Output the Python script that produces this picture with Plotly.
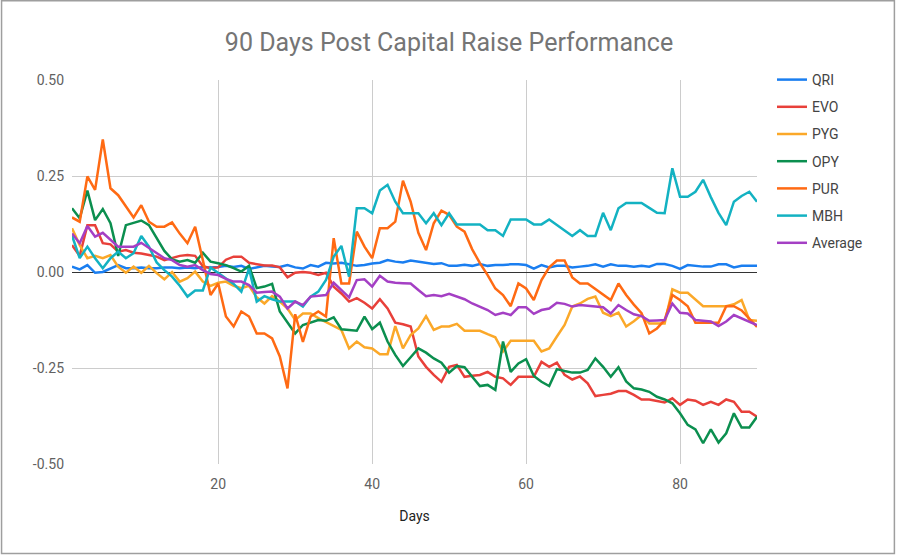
import plotly.graph_objects as go

days = list(range(1, 91))

series_names = ["QRI", "EVO", "PYG", "OPY", "PUR", "MBH", "Average"]

QRI = [0.014, 0.007, 0.018, -0.002, 0.0, 0.008, 0.018, 0.01, 0.01, 0.012,
       0.01, 0.01, 0.012, 0.012, 0.01, 0.012, 0.01, 0.013, 0.012, 0.013,
       0.016, 0.013, 0.016, 0.008, 0.012, 0.016, 0.014, 0.013, 0.018, 0.012,
       0.009, 0.018, 0.014, 0.024, 0.022, 0.024, 0.02, 0.016, 0.018, 0.022,
       0.024, 0.031, 0.027, 0.025, 0.03, 0.027, 0.023, 0.021, 0.023, 0.016,
       0.016, 0.019, 0.016, 0.021, 0.016, 0.018, 0.018, 0.02, 0.02, 0.018,
       0.009, 0.018, 0.012, 0.016, 0.016, 0.012, 0.014, 0.016, 0.02, 0.014,
       0.02, 0.016, 0.016, 0.014, 0.016, 0.014, 0.021, 0.021, 0.016, 0.008,
       0.018, 0.016, 0.014, 0.014, 0.02, 0.02, 0.012, 0.016, 0.016, 0.016]

EVO = [0.07, 0.042, 0.122, 0.122, 0.075, 0.072, 0.053, 0.057, 0.05, 0.048,
       0.044, 0.04, 0.031, 0.036, 0.042, 0.044, 0.042, 0.015, 0.01, 0.012,
       0.032, 0.04, 0.04, 0.024, 0.02, 0.017, 0.017, 0.012, -0.014, -0.002,
       0.0, -0.002, -0.008, -0.002, -0.038, -0.056, -0.077, -0.068, -0.08, -0.095,
       -0.071, -0.095, -0.132, -0.136, -0.142, -0.22, -0.247, -0.268, -0.286, -0.247,
       -0.242, -0.273, -0.27, -0.268, -0.26, -0.273, -0.277, -0.294, -0.273, -0.273,
       -0.273, -0.234, -0.247, -0.236, -0.268, -0.28, -0.272, -0.29, -0.323, -0.32,
       -0.317, -0.31, -0.31, -0.32, -0.332, -0.332, -0.337, -0.34, -0.329, -0.346,
       -0.332, -0.335, -0.346, -0.338, -0.346, -0.332, -0.338, -0.364, -0.364, -0.377]

PYG = [0.114, 0.07, 0.036, 0.042, 0.036, 0.044, 0.014, -0.002, 0.014, -0.002,
       0.016, -0.003, -0.019, 0.0, -0.025, -0.016, 0.001, -0.025, -0.036, -0.028,
       -0.025, -0.036, -0.042, -0.036, -0.066, -0.082, -0.063, -0.077, -0.095, -0.125,
       -0.108, -0.108, -0.12, -0.13, -0.14, -0.151, -0.199, -0.181, -0.196, -0.199,
       -0.214, -0.214, -0.141, -0.199, -0.164, -0.147, -0.115, -0.151, -0.142, -0.142,
       -0.135, -0.153, -0.153, -0.153, -0.162, -0.17, -0.207, -0.179, -0.179, -0.179,
       -0.179, -0.207, -0.199, -0.168, -0.138, -0.09, -0.082, -0.07, -0.064, -0.106,
       -0.115, -0.106, -0.142, -0.128, -0.112, -0.134, -0.134, -0.134, -0.045, -0.054,
       -0.054, -0.072, -0.089, -0.089, -0.089, -0.089, -0.084, -0.073, -0.125, -0.127]

OPY = [0.166, 0.14, 0.212, 0.135, 0.164, 0.127, 0.042, 0.122, 0.128, 0.134,
       0.122, 0.09, 0.055, 0.033, 0.027, 0.031, 0.024, 0.05, 0.027, 0.023,
       0.018, 0.01, 0.001, 0.016, -0.042, -0.038, -0.031, -0.103, -0.132, -0.16,
       -0.138, -0.132, -0.125, -0.127, -0.118, -0.149, -0.151, -0.153, -0.116, -0.149,
       -0.132, -0.181, -0.216, -0.245, -0.222, -0.199, -0.21, -0.225, -0.236, -0.262,
       -0.245, -0.248, -0.273, -0.297, -0.294, -0.307, -0.181, -0.26, -0.238, -0.227,
       -0.271, -0.286, -0.297, -0.253, -0.258, -0.262, -0.262, -0.255, -0.225, -0.247,
       -0.273, -0.248, -0.285, -0.303, -0.306, -0.312, -0.325, -0.332, -0.342, -0.368,
       -0.398, -0.41, -0.446, -0.41, -0.444, -0.42, -0.368, -0.405, -0.405, -0.377]

PUR = [0.142, 0.131, 0.249, 0.214, 0.345, 0.218, 0.2, 0.17, 0.142, 0.174,
       0.131, 0.118, 0.118, 0.129, 0.1, 0.075, 0.118, 0.031, -0.06, -0.03,
       -0.116, -0.142, -0.103, -0.116, -0.16, -0.16, -0.173, -0.22, -0.303, -0.11,
       -0.182, -0.116, -0.103, -0.116, 0.088, -0.03, -0.03, 0.105, 0.066, 0.036,
       0.114, 0.114, 0.131, 0.238, 0.183, 0.102, 0.057, 0.127, 0.16, 0.149,
       0.118, 0.105, 0.059, 0.023, -0.008, -0.043, -0.06, -0.089, -0.03, -0.043,
       -0.073, -0.021, 0.012, 0.03, 0.03, -0.014, -0.03, -0.03, -0.045, -0.06,
       -0.073, -0.03, -0.06, -0.085, -0.107, -0.16, -0.147, -0.125, -0.06, -0.073,
       -0.089, -0.132, -0.132, -0.132, -0.132, -0.089, -0.089, -0.1, -0.121, -0.143]

MBH = [0.095, 0.036, 0.066, 0.036, 0.01, 0.036, 0.053, 0.036, 0.049, 0.094,
       0.066, 0.025, 0.005, -0.012, -0.036, -0.064, -0.048, -0.048, 0.012, -0.003,
       -0.016, -0.031, -0.051, 0.009, -0.077, -0.063, -0.071, -0.077, -0.077, -0.077,
       -0.09, -0.064, -0.051, -0.021, 0.04, 0.068, -0.012, 0.166, 0.166, 0.153,
       0.212, 0.227, 0.183, 0.153, 0.153, 0.153, 0.127, 0.153, 0.122, 0.153,
       0.124, 0.124, 0.124, 0.124, 0.109, 0.109, 0.094, 0.137, 0.137, 0.137,
       0.124, 0.124, 0.137, 0.122, 0.108, 0.094, 0.109, 0.094, 0.094, 0.154,
       0.109, 0.166, 0.18, 0.18, 0.18, 0.167, 0.154, 0.153, 0.27, 0.196,
       0.196, 0.209, 0.24, 0.195, 0.154, 0.122, 0.183, 0.198, 0.209, 0.183]

AVERAGE = [0.1, 0.075, 0.12, 0.092, 0.102, 0.085, 0.066, 0.066, 0.066, 0.076,
           0.062, 0.05, 0.036, 0.031, 0.018, 0.014, 0.018, 0.005, -0.005, -0.008,
           -0.018, -0.025, -0.025, -0.034, -0.054, -0.052, -0.051, -0.064, -0.095, -0.077,
           -0.086, -0.064, -0.062, -0.06, -0.028, -0.047, -0.066, -0.021, -0.019, -0.038,
           -0.01, -0.025, -0.028, -0.029, -0.03, -0.047, -0.063, -0.06, -0.063, -0.057,
           -0.064, -0.071, -0.082, -0.09, -0.099, -0.112, -0.106, -0.112, -0.092, -0.092,
           -0.109, -0.099, -0.095, -0.08, -0.083, -0.09, -0.086, -0.088, -0.09, -0.092,
           -0.108, -0.086, -0.099, -0.11, -0.115, -0.127, -0.126, -0.125, -0.082, -0.106,
           -0.108, -0.125, -0.127, -0.129, -0.141, -0.129, -0.112, -0.12, -0.129, -0.138]

x_tick_values = [20, 40, 60, 80]
y_tick_values = [-0.5, -0.25, 0.0, 0.25, 0.5]
y_tick_labels = ["-0.50", "-0.25", "0.00", "0.25", "0.50"]

colors = ["#1a7ef0", "#e8403a", "#fba829", "#0b8f4f", "#ff6a13", "#13b2c2", "#a43fc4"]

all_values = [QRI, EVO, PYG, OPY, PUR, MBH, AVERAGE]
for v in all_values:
    assert len(v) == len(days)

fig = go.Figure()
for name, vals, col in zip(series_names, all_values, colors):
    fig.add_trace(go.Scatter(
        x=days, y=vals, name=name, mode="lines",
        line=dict(color=col, width=2.5),
        legendgroup=name,
    ))

# plot area geometry in pixels
L, R, T, B = 71.5, 757.0, 80.0, 464.0
W, H = R - L, B - T

def px(xpix):
    return (xpix - L) / W

def py(ypix):
    return (B - ypix) / H

fig.update_layout(
    width=898, height=555,
    margin=dict(l=L, r=898 - R, t=T, b=555 - B, autoexpand=False),
    paper_bgcolor="white", plot_bgcolor="white",
    font=dict(family="Roboto", size=14, color="#616161"),
    title=dict(text="90 Days Post Capital Raise Performance",
               x=0.5, xref="container", xanchor="center",
               y=1 - 42 / 555, yref="container", yanchor="middle",
               font=dict(family="Roboto", size=25, color="#757575")),
    xaxis=dict(range=[1, 90], tickvals=x_tick_values, showgrid=True,
               gridcolor="#cccccc", gridwidth=1, zeroline=False, showline=False,
               ticks="", automargin=False, ticklabelstandoff=10,
               tickfont=dict(size=14, color="#616161"),
               title=dict(text="Days", font=dict(size=14, color="#222222"), standoff=20)),
    yaxis=dict(range=[-0.5, 0.5], tickvals=y_tick_values, ticktext=y_tick_labels,
               showgrid=True, gridcolor="#cccccc", gridwidth=1,
               zeroline=True, zerolinecolor="#333333", zerolinewidth=1,
               showline=False, ticks="", automargin=False, ticklabelstandoff=7,
               tickfont=dict(size=14, color="#616161")),
    legend=dict(x=px(772), y=py(64), xanchor="left", yanchor="top",
                tracegroupgap=6, bgcolor="rgba(0,0,0,0)",
                font=dict(family="Roboto", size=14, color="#444444")),
    shapes=[dict(type="rect", xref="paper", yref="paper",
                 x0=px(1.0), x1=px(894.5), y0=py(553.5), y1=py(0.8),
                 line=dict(color="#9e9e9e", width=1.5), layer="above")],
)

fig.write_html("out.html",
               config={"displayModeBar": False},
               post_script="document.body.style.margin='0';document.body.style.padding='0';")
